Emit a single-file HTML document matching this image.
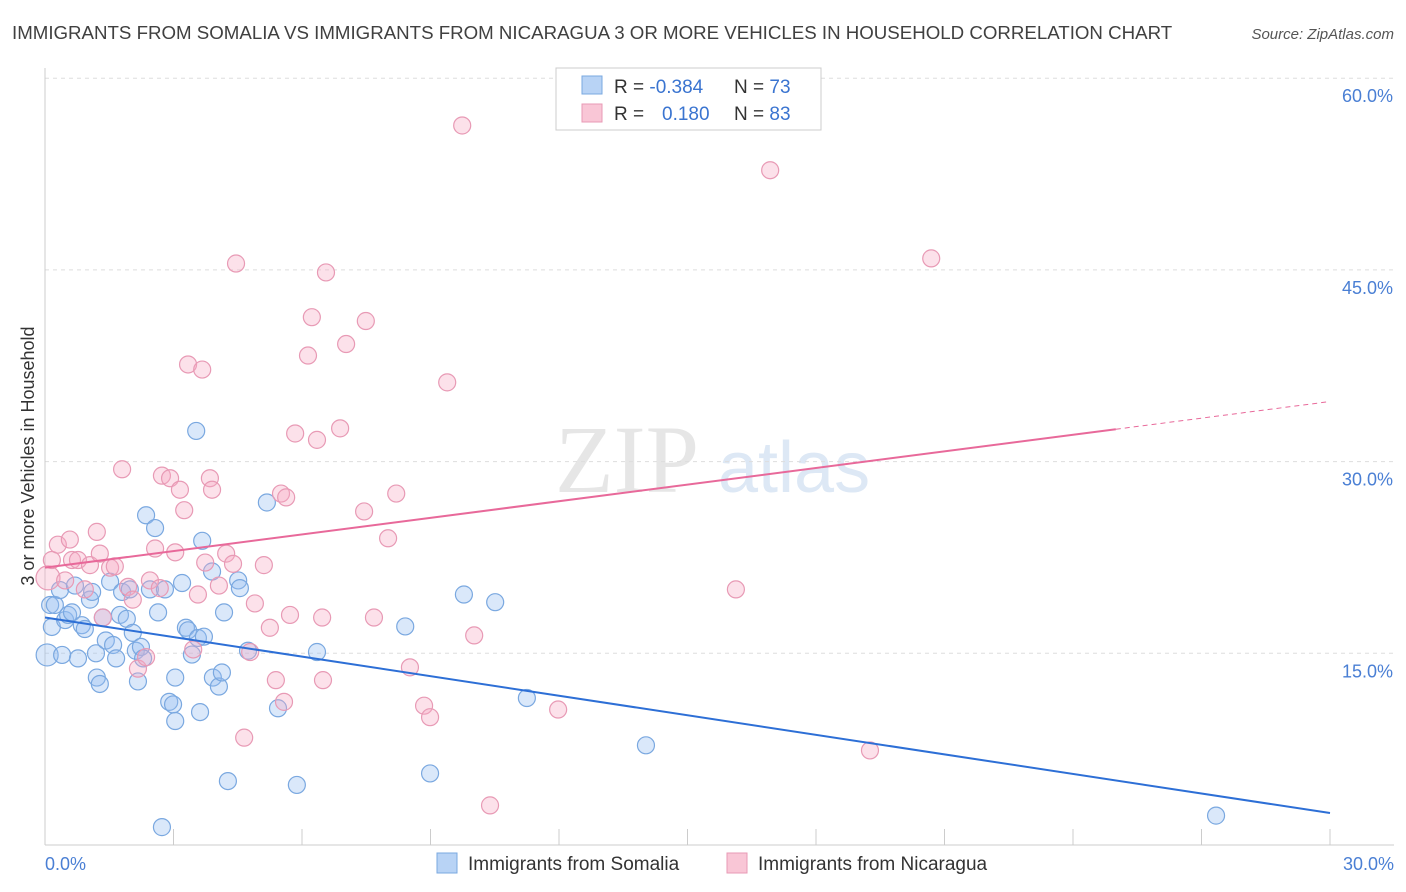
<!DOCTYPE html>
<html><head><meta charset="utf-8"><style>
body{margin:0;background:#fff;font-family:"Liberation Sans",sans-serif;}
svg{display:block}
</style></head><body>
<svg id="chart" width="1406" height="892">
<text x="12" y="39" font-size="18.7" fill="#404040">IMMIGRANTS FROM SOMALIA VS IMMIGRANTS FROM NICARAGUA 3 OR MORE VEHICLES IN HOUSEHOLD CORRELATION CHART</text>
<text x="1394" y="39" font-size="15" fill="#555" font-style="italic" text-anchor="end">Source: ZipAtlas.com</text>
<text transform="translate(34,456) rotate(-90)" font-size="18" fill="#333" text-anchor="middle">3 or more Vehicles in Household</text>
<text x="555" y="492" font-size="96" fill="#e6e6e6" font-family="Liberation Serif,serif">ZIP</text>
<text x="718" y="492" font-size="72" fill="#dde8f5">atlas</text>
<g id="grid"></g><g id="axes"></g><g id="pts"></g><g id="lines"></g>
<g>
<rect x="556" y="68" width="265" height="62" fill="#fff" stroke="#ccc"/>
<rect x="582" y="76" width="20" height="18" fill="#b8d3f5" stroke="#7aa8e0"/>
<rect x="582" y="104" width="20" height="18" fill="#f9c6d6" stroke="#e89ab5"/>
<text x="614" y="93" font-size="19" fill="#333">R = <tspan fill="#3a74d0">-0.384</tspan></text>
<text x="734" y="93" font-size="19" fill="#333">N = <tspan fill="#3a74d0">73</tspan></text>
<text x="614" y="120" font-size="19" fill="#333">R = <tspan fill="#3a74d0" x="662">0.180</tspan></text>
<text x="734" y="120" font-size="19" fill="#333">N = <tspan fill="#3a74d0">83</tspan></text>
</g>
<g>
<rect x="437" y="853" width="20" height="20" fill="#b8d3f5" stroke="#7aa8e0"/>
<text x="468" y="870" font-size="19" fill="#333">Immigrants from Somalia</text>
<rect x="727" y="853" width="20" height="20" fill="#f9c6d6" stroke="#e89ab5"/>
<text x="758" y="870" font-size="19" fill="#333">Immigrants from Nicaragua</text>
</g>
</svg>
<script>
const yTicks=[15,30,45,60];
const yTickLabels=["15.0%","30.0%","45.0%","60.0%"];
const xTickLabels=["0.0%","30.0%"];
const somaliaX=[0.05,0.12,0.16,0.23,0.35,0.40,0.47,0.54,0.63,0.70,0.77,0.86,0.93,1.05,1.10,1.19,1.21,1.28,1.35,1.42,1.52,1.59,1.66,1.75,1.80,1.91,1.98,2.05,2.12,2.17,2.24,2.29,2.36,2.45,2.57,2.64,2.73,2.80,2.90,2.99,3.04,3.04,3.20,3.29,3.34,3.43,3.53,3.57,3.62,3.67,3.71,3.90,3.92,4.06,4.13,4.18,4.27,4.51,4.55,4.74,5.18,5.44,5.88,6.35,8.41,8.99,9.78,10.51,11.25,14.03,27.34];
const somaliaY=[14.87,18.78,17.06,18.78,19.95,14.87,17.6,18.0,18.2,20.3,14.6,17.2,16.9,19.2,19.8,15.0,13.1,12.6,17.8,16.0,20.6,15.65,14.6,18.0,19.8,17.7,20.0,16.6,15.2,12.8,15.5,14.6,25.8,20.0,24.8,18.2,1.4,20.0,11.2,11.0,13.1,9.7,20.5,17.0,16.8,14.9,32.4,16.2,10.4,23.8,16.3,21.4,13.1,12.4,13.5,18.2,5.0,20.7,20.1,15.2,26.8,10.7,4.7,15.1,17.1,5.6,19.6,19.0,11.5,7.8,2.3];
const nicaraguaX=[0.07,0.16,0.30,0.47,0.58,0.63,0.77,0.93,1.05,1.21,1.28,1.35,1.52,1.63,1.80,1.94,2.05,2.17,2.36,2.45,2.57,2.68,2.73,2.92,3.04,3.15,3.25,3.34,3.46,3.57,3.67,3.74,3.85,3.90,4.06,4.23,4.39,4.46,4.65,4.79,4.90,5.11,5.25,5.39,5.51,5.58,5.63,5.72,5.84,6.14,6.23,6.35,6.49,6.56,6.47,6.89,7.03,7.45,7.49,7.68,8.01,8.20,8.52,8.85,8.99,9.39,9.74,10.02,10.39,11.98,16.13,16.93,19.26,20.69];
const nicaraguaY=[20.9,22.3,23.5,20.7,23.9,22.3,22.3,20.0,21.9,24.5,22.8,17.8,21.7,21.8,29.4,20.2,19.2,13.8,14.7,20.7,23.2,20.1,28.9,28.7,22.9,27.8,26.2,37.6,15.3,19.6,37.2,22.1,28.7,27.8,20.3,22.8,22.0,45.5,8.4,15.1,18.9,21.9,17.0,12.9,27.5,11.2,27.2,18.0,32.2,38.3,41.3,31.7,12.9,44.8,17.8,32.6,39.2,26.1,41.0,17.8,24.0,27.5,13.9,10.9,10.0,36.2,56.3,16.4,3.1,10.6,20.0,52.8,7.4,45.9];
const somaliaTrend=[17.8,2.5];
const nicaraguaTrend=[21.7,34.7];
const X0=45,X1=1330,Y0=845,YS=12.78;
const sx=v=>X0+(X1-X0)*v/30, sy=v=>Y0-v*YS;
const NS="http://www.w3.org/2000/svg";
function mk(tag,attrs,parent){const e=document.createElementNS(NS,tag);for(const k in attrs)e.setAttribute(k,attrs[k]);document.getElementById(parent).appendChild(e);return e;}
yTicks.forEach((t,i)=>{
 const g=mk('line',{x1:45,x2:1394,y1:sy(t),y2:sy(t),stroke:'#ddd','stroke-dasharray':'4,4'},'grid');
 
 
 const l=mk('text',{x:1393,y:sy(t)+24,'font-size':18,fill:'#4a7fd4','text-anchor':'end'},'axes');
 l.textContent=yTickLabels[i];
 
 
});
const ya=mk('line',{x1:45,x2:45,y1:68,y2:845,stroke:'#ccc'},'axes');


const xa=mk('line',{x1:45,x2:1394,y1:845,y2:845,stroke:'#ccc'},'axes');


for(let i=0;i<=10;i++){
 const t=mk('line',{x1:sx(i*3),x2:sx(i*3),y1:829,y2:845,stroke:'#ccc'},'axes');
 
 
}
[[0,'start',45],[30,'end',1394]].forEach((d,i)=>{
 const l=mk('text',{x:d[2],y:870,'font-size':18,fill:'#4a7fd4','text-anchor':d[1]},'axes');
 l.textContent=xTickLabels[i];
 
 
});
somaliaX.forEach((x,i)=>{
 const c=mk('circle',{cx:sx(x),cy:sy(somaliaY[i]),r:x<0.1?11:8.5,fill:'rgba(150,190,240,0.35)',stroke:'#7aa8e0','stroke-width':1.2},'pts');
 
 
});
nicaraguaX.forEach((x,i)=>{
 const c=mk('circle',{cx:sx(x),cy:sy(nicaraguaY[i]),r:x<0.1?12:8.5,fill:'rgba(245,170,195,0.35)',stroke:'#e89ab5','stroke-width':1.2},'pts');
 
 
});
const bl=mk('line',{x1:sx(0),y1:sy(somaliaTrend[0]),x2:sx(30),y2:sy(somaliaTrend[1]),stroke:'#2d6fd6','stroke-width':2},'lines');


const px=25,py=nicaraguaTrend[0]+(nicaraguaTrend[1]-nicaraguaTrend[0])*px/30;
const pl=mk('line',{x1:sx(0),y1:sy(nicaraguaTrend[0]),x2:sx(px),y2:sy(py),stroke:'#e8699a','stroke-width':2},'lines');


const pd=mk('line',{x1:sx(px),y1:sy(py),x2:sx(30),y2:sy(nicaraguaTrend[1]),stroke:'#e8699a','stroke-width':1,'stroke-dasharray':'5,4'},'lines');


</script>
</body></html>
